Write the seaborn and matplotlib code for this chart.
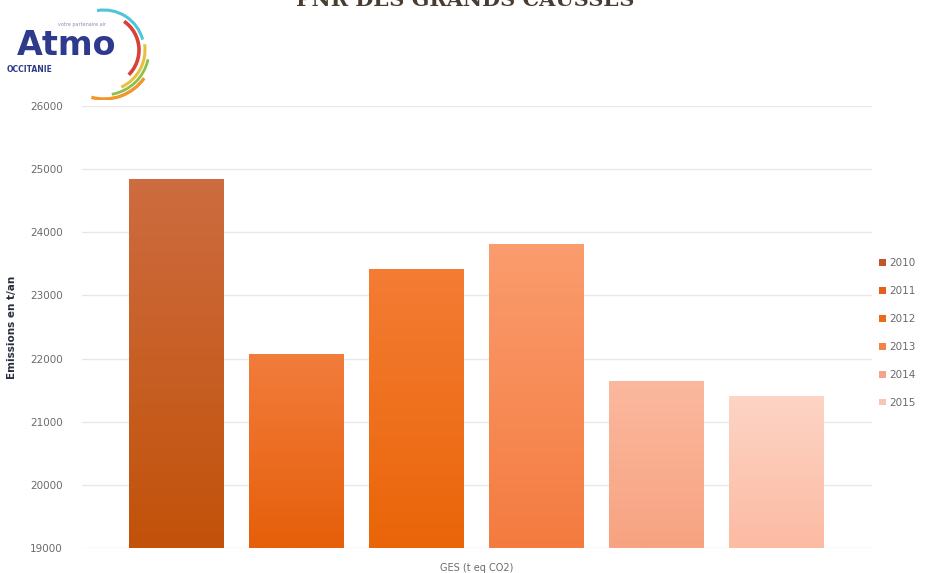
import numpy as np
import pandas as pd
import seaborn as sns
import matplotlib.pyplot as plt
from matplotlib.patches import Arc, Patch
from matplotlib.colors import to_rgb

# --- DONNÉES ---
annees = ["2010", "2011", "2012", "2013", "2014", "2015"]
emissions = [24850, 22080, 23420, 23815, 21645, 21410]
couleurs_haut = ["#CD6C40", "#F27C3C", "#F47C34", "#FB9C6E", "#FBB89E", "#FDD4C5"]
couleurs_bas = ["#C2520A", "#E65F0A", "#EA6508", "#F47B40", "#F7A381", "#FCBBA3"]
couleurs_legende = ["#C0562A", "#E0611A", "#EB6A1A", "#F3824A", "#F5A38A", "#F9C4B0"]

df = pd.DataFrame({"annee": annees, "emissions": emissions})

# --- STYLE ---
sns.set_theme(style="white")
plt.rcParams["font.family"] = ["DejaVu Sans"]

fig = plt.figure(figsize=(9.25, 5.73), dpi=100)
W, H = 925, 573
ax = fig.add_axes([82 / W, 25 / H, 790 / W, 442 / H])

sns.barplot(data=df, x="annee", y="emissions", hue="annee",
            palette=couleurs_bas, width=0.79, legend=False, ax=ax,
            saturation=1, zorder=2)

# dégradé vertical dans chaque barre
for p, c_top, c_bot in zip(ax.patches, couleurs_haut, couleurs_bas):
    x0, y0 = p.get_x(), p.get_y()
    x1, y1 = x0 + p.get_width(), y0 + p.get_height()
    top, bot = np.array(to_rgb(c_top)), np.array(to_rgb(c_bot))
    t = np.linspace(0, 1, 100)[:, None]
    grad = (top * (1 - t) + bot * t)[:, None, :]
    im = ax.imshow(grad, extent=(x0, x1, max(y0, 19000), y1), aspect="auto",
                   origin="upper", zorder=3)
    im.set_clip_path(p)
ax.set_ylim(19000, 26000)
ax.set_xlim(-0.783, 5.8)

ax.set_yticks(range(19000, 26001, 1000))
ax.tick_params(axis="y", labelsize=7.5, labelcolor="#6b6b6b", length=0, pad=14)
ax.set_xticks([])
ax.set_xlabel("GES (t eq CO2)", fontsize=7, color="#6b6b6b", labelpad=11)
ax.set_ylabel("Emissions en t/an", fontsize=7.5, color="#2a2f3f",
              fontweight="bold")
ax.yaxis.set_label_coords(-0.082, 0.5)
ax.grid(axis="y", color="#e8e8e8", linewidth=1, zorder=0)
ax.set_axisbelow(True)
sns.despine(ax=ax, left=True, bottom=True)

# légende
handles = [Patch(facecolor=c, edgecolor="none") for c in couleurs_legende]
ax.legend(handles, annees, loc="center left", bbox_to_anchor=(870 / W, 1 - 333 / H),
          bbox_transform=fig.transFigure, frameon=False, fontsize=7.5,
          labelcolor="#6b6b6b", handlelength=0.6, handleheight=0.6,
          handletextpad=0.3, labelspacing=1.72)

# titre (coupé en haut)
fig.text(465 / W, 1 - 6 / H, "PNR DES GRANDS CAUSSES", ha="center", va="baseline",
         fontsize=15, fontweight="bold", color="#4a3c30",
         family=["DejaVu Serif"])

# logo Atmo Occitanie
lax = fig.add_axes([0, 1 - 100 / H, 160 / W, 100 / H])
lax.set_xlim(0, 160)
lax.set_ylim(0, 100)
lax.axis("off")
lax.text(17, 45, "Atmo", fontsize=24, fontweight="bold", color="#2E3A8C",
         va="baseline", ha="left")
lax.text(7, 28, "OCCITANIE", fontsize=5.5, fontweight="bold", color="#2E3A8C",
         va="baseline", ha="left")
lax.text(58, 74, "votre partenaire air", fontsize=3.5, color="#8890b0",
         va="baseline", ha="left")
arcs = [(40, 15, 100, "#4CC6D8", 2.2), (35, -45, 55, "#D8403A", 2.6),
        (41, -65, 8, "#E8C040", 2.2), (45, -80, -12, "#8CC04A", 2.0),
        (49, -105, -35, "#F0962C", 2.4)]
for r, t1, t2, c, lw in arcs:
    lax.add_patch(Arc((104, 50), 2 * r, 2 * r, theta1=t1, theta2=t2,
                      color=c, linewidth=lw))

fig.savefig("out.png", dpi=100)
